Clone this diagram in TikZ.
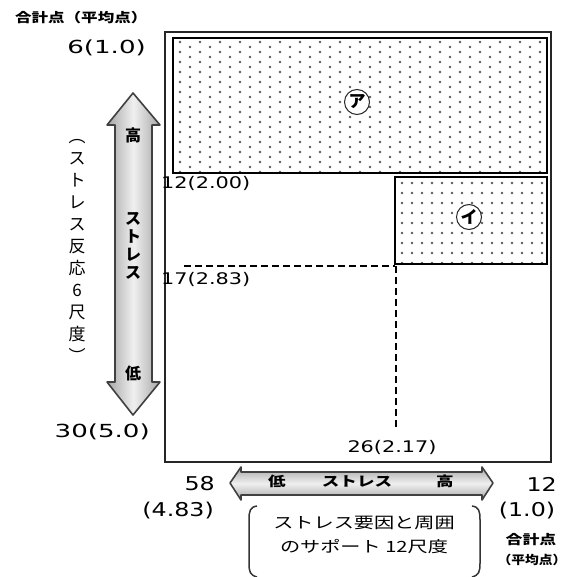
\documentclass[tikz,border=0pt]{standalone}
\usepackage{fontspec}
\usepackage{graphicx}
\setmainfont{DejaVu Sans}
\newfontfamily\jp{Noto Sans CJK JP}
\newfontfamily\numf{DejaVu Sans}
\newcommand{\sx}[2]{\scalebox{#1}[1]{#2}}
\begin{document}
\begin{tikzpicture}[x=1pt,y=-1pt,
  frame/.style={draw=black!85,line width=1.8pt},
  boxA/.style={draw=black,line width=2.2pt},
  dotc/.style={fill=black!65},
  dashln/.style={draw=black,line width=1.6pt,dash pattern=on 7pt off 4pt},
  circ/.style={circle,draw=black!85,line width=1pt,fill=white,minimum size=25pt,inner sep=0pt,font=\jp\bfseries\fontsize{17}{17}\selectfont},
  numL/.style={inner sep=0pt,font=\numf\fontsize{18}{18}\selectfont},
  numM/.style={inner sep=0pt,font=\numf\fontsize{16}{16}\selectfont},
  numB/.style={inner sep=0pt,font=\numf\fontsize{19}{19}\selectfont},
  jpS/.style={inner sep=0pt,font=\jp\bfseries\fontsize{13}{13}\selectfont},
  jpA/.style={inner sep=0pt,align=center,font=\jp\bfseries\fontsize{16}{18}\selectfont},
  jpH/.style={inner sep=0pt,font=\jp\bfseries\fontsize{13.5}{14}\selectfont},
  arrowbox/.style={draw=black!75,line width=1.6pt,line join=round},
  brk/.style={draw=black!80,line width=1.5pt}
]
\useasboundingbox (0,0) rectangle (575,577);

% outer frame
\draw[frame] (165,32) rectangle (551,462);

% box A dots
\begin{scope}
\clip (173,38) rectangle (547,173);
\foreach \i in {0,...,37}{
  \foreach \j in {0,...,14}{
    \fill[dotc] ({180+10*\i},{42+10*\j+5*mod(\i,2)}) circle (1.35);
  }
}
\end{scope}
\draw[boxA] (173,38) rectangle (547,173);

% box B dots
\begin{scope}
\clip (395,177) rectangle (547,264);
\foreach \i in {0,...,15}{
  \foreach \j in {0,...,8}{
    \fill[dotc] ({402+10*\i},{183+10*\j}) circle (1.35);
  }
}
\end{scope}
\draw[boxA] (395,177) rectangle (547,264);

\node[circ] (ka) at (357,102) {ア};
\node[circ] (ki) at (469,217) {イ};

% dashed lines
\coordinate (h1) at (184,266);
\coordinate (h2) at (395,266);
\coordinate (v1) at (396,266);
\coordinate (v2) at (396,430);
\draw[dashln] (h1) -- (h2);
\draw[dashln] (v1) -- (v2);

% labels in chart
\node[numM,anchor=west] (l12) at (161,183) {\sx{1.3}{12(2.00)}};
\node[numM,anchor=west] (l17) at (161,279) {\sx{1.3}{17(2.83)}};
\node[numM] (l26) at (392,447) {\sx{1.3}{26(2.17)}};

% top-left labels
\node[jpS,anchor=west] (tl) at (15,18) {\sx{1.27}{合計点（平均点）}};
\node[numL,anchor=east] (t6) at (146,48) {\sx{1.45}{6(1.0)}};
\node[numL,anchor=east] (t30) at (150,432) {\sx{1.45}{30(5.0)}};

% vertical arrow
\draw[arrowbox,left color=black!35,right color=black!35,middle color=black!6]
  (133,93) -- (160,125) -- (152,125) -- (152,382) -- (160,382) -- (133,415)
  -- (107,382) -- (115,382) -- (115,125) -- (107,125) -- cycle;
\node[jpA] (vh) at (133,135) {高};
\node[jpA] (vs) at (133,246) {ス\\ト\\レ\\ス};
\node[jpA] (vl) at (133,373) {低};

% vertical caption
\node[inner sep=0pt,align=center,font=\jp\fontsize{17}{22}\selectfont] (vcap) at (77,251)
  {︵\\ス\\ト\\レ\\ス\\反\\応\\6\\尺\\度\\︶};

% horizontal arrow
\draw[arrowbox,top color=black!35,bottom color=black!35,middle color=black!6]
  (230,483) -- (241,467) -- (241,472) -- (482,472) -- (482,467) -- (493,483)
  -- (482,500) -- (482,495) -- (241,495) -- (241,500) -- cycle;
\node[jpH] (hl) at (277,481) {\sx{1.3}{低}};
\node[jpH] (hs) at (357,481) {\sx{1.3}{ストレス}};
\node[jpH] (hh) at (445,481) {\sx{1.3}{高}};

% bottom-left numbers
\node[numB,anchor=east] (b58) at (215,484) {\sx{1.25}{58}};
\node[numB,anchor=east] (b483) at (214,511) {\sx{1.25}{(4.83)}};

% bottom-right
\node[numB,anchor=east] (b12) at (557,484) {\sx{1.25}{12}};
\node[numB] (b10) at (527,511) {\sx{1.25}{(1.0)}};
\node[jpS] (bg) at (531,540) {\sx{1.3}{合計点}};
\node[inner sep=0pt,font=\jp\bfseries\fontsize{12}{12}\selectfont] (bh) at (532,560) {\sx{1.15}{（平均点）}};

% bracket
\coordinate (bl1) at (257,506);
\coordinate (bl2) at (257,577);
\coordinate (br1) at (472,506);
\coordinate (br2) at (472,577);
\draw[brk] (bl1) .. controls (250,507) and (249,511) .. (249,520) -- (249,563) .. controls (249,572) and (250,575) .. (bl2);
\draw[brk] (br1) .. controls (479,507) and (480,511) .. (480,520) -- (480,563) .. controls (480,572) and (479,575) .. (br2);
\node[inner sep=0pt,align=center,font=\jp\fontsize{15.5}{24}\selectfont] (bt) at (364,535)
  {\sx{1.3}{ストレス要因と周囲}\\\sx{1.3}{のサポート 12尺度}};
\end{tikzpicture}
\end{document}
